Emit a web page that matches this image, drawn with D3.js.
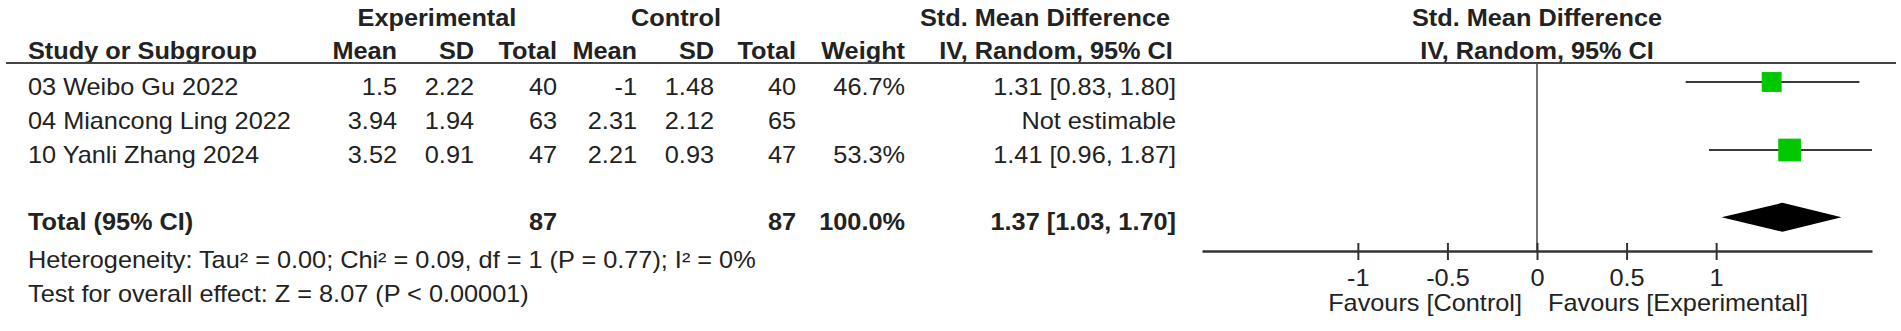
<!DOCTYPE html>
<html>
<head>
<meta charset="utf-8">
<script src="https://cdn.jsdelivr.net/npm/d3@7"></script>
<style>
  html, body { margin: 0; padding: 0; background: #fff; }
  svg text { font-family: "Liberation Sans", Arial, sans-serif; fill: #222; }
</style>
</head>
<body>
<div id="chart"></div>
<script>
// study rows
const studies = ['03 Weibo Gu 2022', '04 Miancong Ling 2022', '10 Yanli Zhang 2024'];
const expMean = [1.5, 3.94, 3.52];
const expSD = [2.22, 1.94, 0.91];
const expTotal = [40, 63, 47];
const ctrlMean = [-1, 2.31, 2.21];
const ctrlSD = [1.48, 2.12, 0.93];
const ctrlTotal = [40, 65, 47];
const weights = [46.7, null, 53.3];
const smd = [1.31, null, 1.41];
const ciLow = [0.83, null, 0.96];
const ciHigh = [1.80, null, 1.87];

// pooled result
const totalExp = 87;
const totalCtrl = 87;
const totalWeight = 100.0;
const totalSmd = 1.37;
const totalLow = 1.03;
const totalHigh = 1.70;

const axisTicks = [-1, -0.5, 0, 0.5, 1];
const heterogeneityText = 'Heterogeneity: Tau\u00B2 = 0.00; Chi\u00B2 = 0.09, df = 1 (P = 0.77); I\u00B2 = 0%';
const overallText = 'Test for overall effect: Z = 8.07 (P < 0.00001)';

const W = 1901, H = 331;
const fontSize = 23;
const sx = 1.1; // the original type is a little wider than Arial

const svg = d3.select('#chart').append('svg')
    .attr('width', W)
    .attr('height', H)
    .style('font-size', fontSize + 'px');

// put a text at (x, y), slightly stretched sideways
function label(g, px, py, str, anchor) {
    return g.append('text')
        .attr('transform', `translate(${px},${py}) scale(${sx},1)`)
        .attr('text-anchor', anchor || 'start')
        .text(str);
}

// column right edges
const col = { study: 28, expMean: 397, expSD: 474, expTotal: 557, ctrlMean: 637, ctrlSD: 714, ctrlTotal: 796, weight: 905, ci: 1176 };

// rows: index -> y centre of the mark, text baseline sits a bit lower
const y = d3.scaleLinear().domain([0, 1]).range([82, 116]);
const textOff = 13;
const totalRow = 3.98;

// forest plot scale
const x = d3.scaleLinear().domain([-1.87, 1.87]).range([1202, 1872]);
const sq = d3.scaleLinear().domain([0, 53.3]).range([0, 22.7]);

// headers
const hdr = svg.append('g').style('font-weight', 'bold');
label(hdr, 437, 26, 'Experimental', 'middle');
label(hdr, 676, 26, 'Control', 'middle');
label(hdr, 1045, 26, 'Std. Mean Difference', 'middle');
label(hdr, x(0), 26, 'Std. Mean Difference', 'middle');

label(hdr, col.study, 59, 'Study or Subgroup');
[['expMean', 'Mean'], ['expSD', 'SD'], ['expTotal', 'Total'], ['ctrlMean', 'Mean'], ['ctrlSD', 'SD'], ['ctrlTotal', 'Total'], ['weight', 'Weight']]
    .forEach(([k, t]) => label(hdr, col[k], 59, t, 'end'));
label(hdr, 1056, 59, 'IV, Random, 95% CI', 'middle');
label(hdr, x(0), 59, 'IV, Random, 95% CI', 'middle');

svg.append('line')
    .attr('x1', 6).attr('x2', 1896)
    .attr('y1', 63).attr('y2', 63)
    .style('stroke', '#444').style('stroke-width', 2);

// study rows
const rows = studies.map((s, i) => ({
    study: s, i,
    expMean: expMean[i], expSD: expSD[i], expTotal: expTotal[i],
    ctrlMean: ctrlMean[i], ctrlSD: ctrlSD[i], ctrlTotal: ctrlTotal[i],
    weight: weights[i], smd: smd[i], lo: ciLow[i], hi: ciHigh[i]
}));

const rowG = svg.selectAll('.row').data(rows).enter().append('g').attr('class', 'row');
const cell = (k, anchor, fmt) => rowG.append('text')
    .attr('transform', d => `translate(${col[k]},${y(d.i) + textOff}) scale(${sx},1)`)
    .attr('text-anchor', anchor)
    .text(fmt);
cell('study', 'start', d => d.study);
['expMean', 'expSD', 'expTotal', 'ctrlMean', 'ctrlSD', 'ctrlTotal'].forEach(k => cell(k, 'end', d => String(d[k])));
cell('weight', 'end', d => d.weight == null ? '' : d.weight.toFixed(1) + '%');
cell('ci', 'end', d => d.smd == null ? 'Not estimable' : `${d.smd.toFixed(2)} [${d.lo.toFixed(2)}, ${d.hi.toFixed(2)}]`);

// CI lines and weighted squares
const est = rows.filter(d => d.smd != null);
svg.selectAll('.ci').data(est).enter().append('line')
    .attr('x1', d => x(d.lo)).attr('x2', d => x(d.hi))
    .attr('y1', d => y(d.i)).attr('y2', d => y(d.i))
    .style('stroke', '#3a3a3a').style('stroke-width', 2);
svg.selectAll('.sq').data(est).enter().append('rect')
    .attr('x', d => x(d.smd) - sq(d.weight) / 2)
    .attr('y', d => y(d.i) - sq(d.weight) / 2)
    .attr('width', d => sq(d.weight))
    .attr('height', d => sq(d.weight))
    .style('fill', '#00c800');

// total row
const tot = svg.append('g').style('font-weight', 'bold');
const ty = y(totalRow) + textOff;
label(tot, col.study, ty, 'Total (95% CI)');
label(tot, col.expTotal, ty, totalExp, 'end');
label(tot, col.ctrlTotal, ty, totalCtrl, 'end');
label(tot, col.weight, ty, totalWeight.toFixed(1) + '%', 'end');
label(tot, col.ci, ty, `${totalSmd.toFixed(2)} [${totalLow.toFixed(2)}, ${totalHigh.toFixed(2)}]`, 'end');

const dy = y(totalRow), dh = 14.5;
svg.append('path')
    .attr('d', `M${x(totalLow)},${dy} L${x(totalSmd)},${dy - dh} L${x(totalHigh)},${dy} L${x(totalSmd)},${dy + dh} Z`)
    .style('fill', '#000');

// footer
label(svg, col.study, 268, heterogeneityText);
label(svg, col.study, 302, overallText);

// zero line
const axisY = 251;
svg.append('line')
    .attr('x1', x(0)).attr('x2', x(0))
    .attr('y1', 63).attr('y2', axisY)
    .style('stroke', '#444').style('stroke-width', 1.5);

// axis
const axis = svg.append('g')
    .attr('transform', `translate(0,${axisY})`)
    .call(d3.axisBottom(x).tickValues(axisTicks).tickSizeOuter(0).tickFormat(d => String(d)));
axis.select('.domain').style('stroke', '#333').style('stroke-width', 2.5);
axis.selectAll('.tick line').attr('y1', -8).attr('y2', 9).style('stroke', '#333').style('stroke-width', 2);
axis.selectAll('.tick text')
    .attr('y', null).attr('dy', null)
    .attr('transform', `translate(0,35) scale(${sx},1)`)
    .style('font-size', fontSize + 'px')
    .style('font-family', '"Liberation Sans", Arial, sans-serif')
    .style('fill', '#222');

label(svg, x(0) - 15, 311, 'Favours [Control]', 'end');
label(svg, x(0) + 11, 311, 'Favours [Experimental]');
</script>
</body>
</html>
